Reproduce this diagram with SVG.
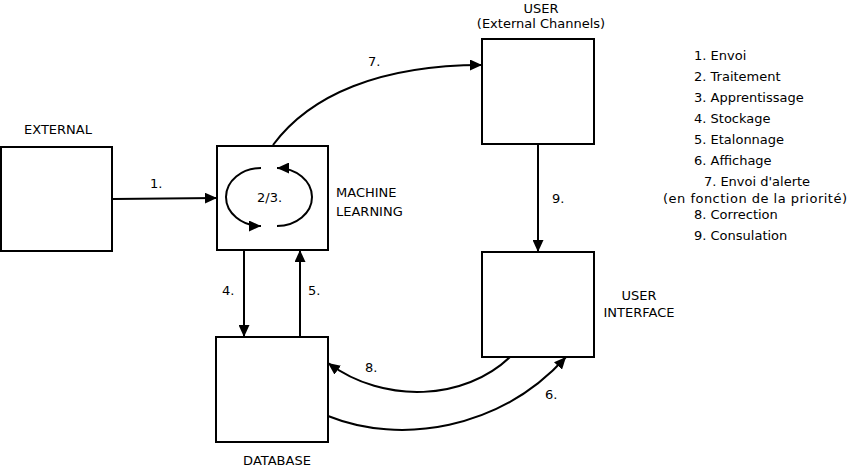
<svg xmlns="http://www.w3.org/2000/svg" width="850" height="468" viewBox="0 0 850 468">
<defs>
<style>
text{font-family:"DejaVu Sans",Verdana,sans-serif;font-size:13px;fill:#000}
.box{fill:#fff;stroke:#000;stroke-width:2}
.c{fill:none;stroke:#000;stroke-width:2}
.m{text-anchor:middle}
</style>
<marker id="ah" markerUnits="userSpaceOnUse" markerWidth="13" markerHeight="11" refX="12" refY="5.5" orient="auto" viewBox="0 0 13 11">
<path d="M0,0 L12,5.5 L0,11 z" fill="#000"/>
</marker>
</defs>
<rect width="850" height="468" fill="#fff"/>
<g id="connectors">
<path class="c" d="M113,199 L217,198" marker-end="url(#ah)"/>
<path class="c" d="M273,145 C310,95 380,65 482,65" marker-end="url(#ah)"/>
<path class="c" d="M244,250 L244,337" marker-end="url(#ah)"/>
<path class="c" d="M300,337 L300,250" marker-end="url(#ah)"/>
<path class="c" d="M538,144 L538,252" marker-end="url(#ah)"/>
<path class="c" d="M510,357 C465,400 385,405 328,363" marker-end="url(#ah)"/>
<path class="c" d="M328,416 C400,445 500,430 566,357" marker-end="url(#ah)"/>
<text x="150" y="188">1.</text>
<text x="368" y="66">7.</text>
<text x="222" y="295">4.</text>
<text x="308" y="295">5.</text>
<text x="552" y="203">9.</text>
<text x="365" y="372">8.</text>
<text x="545" y="399">6.</text>
</g>
<g id="external">
<rect class="box" x="1" y="147" width="111" height="104"/>
<text class="m" x="58" y="134">EXTERNAL</text>
</g>
<g id="machine-learning">
<rect class="box" x="217" y="146" width="111" height="104"/>
<path class="c" d="M261,168 A35,29 0 0 0 261,226" marker-end="url(#ah)"/>
<path class="c" d="M277,226 A35,29 0 0 0 277,168" marker-end="url(#ah)"/>
<text x="257" y="202">2/3.</text>
<text x="336" y="197">MACHINE</text>
<text x="336" y="216">LEARNING</text>
</g>
<g id="database">
<rect class="box" x="216" y="337" width="112" height="105"/>
<text class="m" x="277" y="465">DATABASE</text>
</g>
<g id="user">
<rect class="box" x="482" y="39" width="112" height="105"/>
<text class="m" x="541" y="13">USER</text>
<text class="m" x="541" y="28">(External Channels)</text>
</g>
<g id="user-interface">
<rect class="box" x="482" y="252" width="112" height="105"/>
<text class="m" x="639" y="300">USER</text>
<text class="m" x="639" y="317">INTERFACE</text>
</g>
<g id="legend">
<text x="694" y="60">1. Envoi</text>
<text x="694" y="81">2. Traitement</text>
<text x="694" y="102">3. Apprentissage</text>
<text x="694" y="123">4. Stockage</text>
<text x="694" y="144">5. Etalonnage</text>
<text x="694" y="165">6. Affichage</text>
<text class="m" x="757" y="186">7. Envoi d'alerte</text>
<text class="m" x="755" y="203" textLength="184">(en fonction de la priorité)</text>
<text x="694" y="219">8. Correction</text>
<text x="694" y="240">9. Consulation</text>
</g>
</svg>
